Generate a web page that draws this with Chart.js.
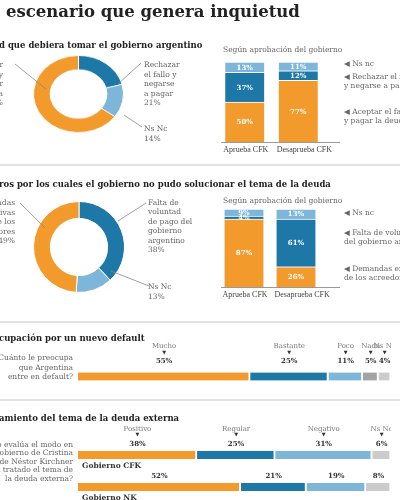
<!DOCTYPE html>
<html>
<head>
<meta charset="utf-8">
<script src="https://cdn.jsdelivr.net/npm/chart.js"></script>
<style>
body{margin:0;width:400px;height:500px;overflow:hidden;background:#fff;position:relative;font-family:"DejaVu Serif",serif;color:#555}
.t{position:absolute;white-space:nowrap;transform:translateY(-50%);line-height:1}
.pre{position:absolute;right:100%;top:0}
.h1{font-weight:bold;font-size:16.5px;color:#222}
.h2{font-weight:bold;font-size:8.5px;color:#222}
.s{font-size:7.5px;color:#666}
.sep{position:absolute;left:0;width:400px;height:2px;background:#e2e2e2}
.box{position:absolute}
canvas{display:block}
</style>
</head>
<body>
<div class="sep" style="top:164px"></div>
<div class="sep" style="top:321px"></div>
<div class="sep" style="top:399px"></div>

<div class="box" style="left:33px;top:55px;transform:scaleY(0.857);transform-origin:0 0"><canvas id="donut1" width="91" height="91"></canvas></div>
<div class="box" style="left:218px;top:58px"><canvas id="bars1" width="122" height="100"></canvas></div>
<div class="box" style="left:33px;top:201px"><canvas id="donut2" width="92" height="92"></canvas></div>
<div class="box" style="left:218px;top:205px"><canvas id="bars2" width="122" height="98"></canvas></div>
<div class="box" style="left:78px;top:340px"><canvas id="preoc" width="313" height="44"></canvas></div>
<div class="box" style="left:78px;top:420px"><canvas id="evalua" width="313" height="83"></canvas></div>

<svg class="box" style="left:0;top:0" width="400" height="500">
  <g stroke="#888" stroke-width="0.8" fill="none">
    <line x1="15" y1="64" x2="46" y2="89"/>
    <line x1="141" y1="63" x2="118" y2="84"/>
    <line x1="142" y1="127" x2="124" y2="115"/>
    <line x1="20" y1="203" x2="45" y2="228"/>
    <line x1="146" y1="203" x2="118" y2="221"/>
    <line x1="149" y1="286" x2="111" y2="271"/>
  </g>
</svg>

<script>
// colores
const orange = '#F39A2C', blue = '#1D77A7', sky = '#7DB6D9', gray = '#A3A3A3', lgray = '#CBCBCB';

// 1. actitud que debiera tomar el gobierno
const actitudLabels = ['Rechazar el fallo y negarse a pagar', 'Ns Nc', 'Aceptar el fallo y pagar la deuda'];
const actitudValues = [21, 14, 65];
const aprobCats = ['Aprueba CFK', 'Desaprueba CFK'];
const actitudAceptar = [50, 77];
const actitudRechazar = [37, 12];
const actitudNsNc = [13, 11];

// 2. motivos
const motivosLabels = ['Falta de voluntad de pago del gobierno argentino', 'Ns Nc', 'Demandas excesivas de los acreedores'];
const motivosValues = [38, 13, 49];
const motivosDemandas = [87, 26];
const motivosFalta = [4, 61];
const motivosNsNc = [9, 13];

// 3. preocupacion por un nuevo default
const preocLabels = ['Mucho', 'Bastante', 'Poco', 'Nada', 'Ns Nc'];
const preocValues = [55, 25, 11, 5, 4];

// 4. tratamiento de la deuda externa
const evalLabels = ['Positivo', 'Regular', 'Negativo', 'Ns Nc'];
const evalGobiernos = ['Gobierno CFK', 'Gobierno NK'];
const evalCFK = [38, 25, 31, 6];
const evalNK = [52, 21, 19, 8];

function txt(s, x, y, cls, align, pre) {
  const d = document.createElement('div');
  d.className = 't ' + cls;
  d.textContent = s;
  if (pre) {
    const p = document.createElement('span');
    p.className = 'pre';
    p.textContent = pre;
    d.appendChild(p);
  }
  d.style.top = y + 'px';
  if (align == 'right') d.style.right = (400 - x) + 'px';
  else d.style.left = x + 'px';
  document.body.appendChild(d);
}
function lines(arr, x, y, step, cls, align) {
  arr.forEach((s, i) => txt(s, x, y + i * step, cls, align));
}

// textos
txt('escenario que genera inquietud', 6, 12, 'h1', 'left', 'Un\u00a0');
txt('d que debiera tomar el gobierno argentino', -1, 45, 'h2', 'left', 'Actitu');
txt('ros por los cuales el gobierno no pudo solucionar el tema de la deuda', -1, 184, 'h2');
txt('cupación por un nuevo default', -1, 338, 'h2', 'left', 'Preo');
txt('amiento del tema de la deuda externa', -1, 418, 'h2', 'left', 'Trat');

lines(['Aceptar', 'el fallo y', 'pagar', 'la deuda', '65%'], 3, 65, 9.5, 's', 'right');
lines(['Rechazar', 'el fallo y', 'negarse', 'a pagar', '21%'], 144, 65, 9.6, 's');
lines(['Ns Nc', '14%'], 144, 129, 10, 's');
txt('Según aprobación del gobierno', 223, 50, 's');
txt('\u25C0 Ns nc', 344, 64, 's');
lines(['\u25C0 Rechazar el fallo', '   y negarse a pagar'], 344, 77, 8.5, 's');
lines(['\u25C0 Aceptar el fallo', '   y pagar la deuda'], 344, 112, 8.5, 's');

lines(['Demandas', 'excesivas', 'de los', 'acreedores', '49%'], 15, 203, 9.5, 's', 'right');
lines(['Falta de', 'voluntad', 'de pago del', 'gobierno', 'argentino', '38%'], 148, 203, 9.4, 's');
lines(['Ns Nc', '13%'], 148, 287, 10, 's');
txt('Según aprobación del gobierno', 223, 201, 's');
txt('\u25C0 Ns nc', 344, 213, 's');
lines(['\u25C0 Falta de voluntad', '   del gobierno argentino'], 344, 233, 8.5, 's');
lines(['\u25C0 Demandas excesivas', '   de los acreedores'], 344, 269, 8.5, 's');

lines(['¿Cuánto le preocupa', 'que Argentina', 'entre en default?'], 73, 358, 9.5, 's', 'right');
lines(['¿Cómo evalúa el modo en', 'que el gobierno de Cristina', 'Kirchner y el de Néstor Kirchner', 'ha tratado el tema de', 'la deuda externa?'], 73, 445, 8.4, 's', 'right');

// etiquetas dentro de las barras verticales y nombres debajo
const insideLabels = {
  id: 'insideLabels',
  afterDatasetsDraw(chart) {
    const ctx = chart.ctx;
    ctx.save();
    ctx.font = 'bold 7px "DejaVu Serif"';
    ctx.fillStyle = '#fff';
    ctx.textAlign = 'center';
    ctx.textBaseline = 'middle';
    chart.data.datasets.forEach((ds, i) => {
      chart.getDatasetMeta(i).data.forEach((bar, j) => {
        ctx.fillText(ds.data[j] + '%', bar.x, (bar.y + bar.base) / 2 + 0.5);
      });
    });
    ctx.font = '8px "Liberation Serif"';
    ctx.fillStyle = '#444';
    ctx.textAlign = 'left';
    chart.getDatasetMeta(0).data.forEach((bar, j) => {
      ctx.fillText(chart.data.labels[j], bar.x - bar.width / 2 - 2, chart.chartArea.bottom + 8);
    });
    ctx.restore();
  }
};

// etiquetas encima de las barras horizontales
const topLabels = {
  id: 'topLabels',
  afterDatasetsDraw(chart, args, opts) {
    const ctx = chart.ctx;
    ctx.save();
    ctx.textAlign = 'center';
    ctx.textBaseline = 'middle';
    chart.data.datasets.forEach((ds, i) => {
      chart.getDatasetMeta(i).data.forEach((bar, j) => {
        const cx = (bar.x + bar.base) / 2;
        const top = bar.y - bar.height / 2;
        if (j == 0) {
          ctx.fillStyle = '#777';
          ctx.font = '7px "DejaVu Serif"';
          ctx.fillText(ds.label, cx, top - opts.name);
          ctx.fillStyle = '#333';
          ctx.font = '5px "DejaVu Sans"';
          ctx.fillText('\u25BC', cx, top - opts.arrow);
        }
        ctx.fillStyle = '#333';
        ctx.font = 'bold 7px "DejaVu Serif"';
        ctx.fillText(ds.data[j] + '%', cx, top - opts.value);
      });
    });
    if (opts.groups) {
      ctx.textAlign = 'left';
      ctx.font = 'bold 7.5px "DejaVu Serif"';
      ctx.fillStyle = '#333';
      const meta = chart.getDatasetMeta(0);
      chart.data.labels.forEach((l, j) => {
        const bar = meta.data[j];
        ctx.fillText(l, chart.chartArea.left + 4, bar.y + bar.height / 2 + 7);
      });
    }
    ctx.restore();
  }
};

const noPlugins = { legend: { display: false }, tooltip: { enabled: false } };

function donut(id, labels, values) {
  new Chart(document.getElementById(id), {
    type: 'doughnut',
    data: { labels: labels, datasets: [{ data: values, backgroundColor: [blue, sky, orange], borderColor: '#fff', borderWidth: 1 }] },
    options: { responsive: false, animation: false, devicePixelRatio: 1, cutout: '63%', plugins: noPlugins }
  });
}

// barras apiladas: el area util mide 107 px, el resto a la derecha es la linea de base
function stacked(id, parts, plotWidth) {
  new Chart(document.getElementById(id), {
    type: 'bar',
    data: {
      labels: aprobCats,
      datasets: parts.map(p => ({ label: p[0], data: p[1], backgroundColor: p[2], borderColor: '#fff', borderWidth: { top: 1 }, borderSkipped: false, barThickness: 39 }))
    },
    options: {
      responsive: false, animation: false, devicePixelRatio: 1,
      layout: { padding: { top: 4, right: 122 - plotWidth } },
      plugins: noPlugins,
      scales: {
        x: { stacked: true, grid: { display: false }, border: { display: false },
             ticks: { display: false },
             afterFit(s) { s.height = 16; } },
        y: { stacked: true, min: 0, max: 100, display: false }
      }
    },
    plugins: [insideLabels, {
      id: 'baseLine',
      afterDatasetsDraw(chart) {
        const ctx = chart.ctx, a = chart.chartArea;
        ctx.save();
        ctx.strokeStyle = '#999';
        ctx.beginPath();
        ctx.moveTo(a.left + 3, a.bottom + 0.5);
        ctx.lineTo(chart.width, a.bottom + 0.5);
        ctx.stroke();
        ctx.restore();
      }
    }]
  });
}

function hbars(id, cats, names, rows, colors, pad, offs) {
  new Chart(document.getElementById(id), {
    type: 'bar',
    data: {
      labels: cats,
      datasets: names.map((n, i) => ({
        label: n, data: rows.map(r => r[i]), backgroundColor: colors[i],
        borderColor: '#fff', borderWidth: { right: 2 }, borderSkipped: false, barThickness: 8
      }))
    },
    options: {
      indexAxis: 'y', responsive: false, animation: false, devicePixelRatio: 1,
      layout: { padding: pad },
      plugins: Object.assign({ topLabels: offs }, noPlugins),
      scales: {
        x: { stacked: true, min: 0, max: 100, display: false },
        y: { stacked: true, display: false }
      }
    },
    plugins: [topLabels]
  });
}

donut('donut1', actitudLabels, actitudValues);
donut('donut2', motivosLabels, motivosValues);

stacked('bars1', [
  ['Aceptar el fallo y pagar la deuda', actitudAceptar, orange],
  ['Rechazar el fallo y negarse a pagar', actitudRechazar, blue],
  ['Ns nc', actitudNsNc, sky]
], 107);
stacked('bars2', [
  ['Demandas excesivas de los acreedores', motivosDemandas, orange],
  ['Falta de voluntad del gobierno argentino', motivosFalta, blue],
  ['Ns nc', motivosNsNc, sky]
], 104);

hbars('preoc', ['¿Cuánto le preocupa que Argentina entre en default?'], preocLabels, [preocValues],
  [orange, blue, sky, gray, lgray], { top: 29 }, { name: 26, arrow: 20, value: 11 });
hbars('evalua', evalGobiernos, evalLabels, [evalCFK, evalNK],
  [orange, blue, sky, lgray], { top: 19 }, { name: 22, arrow: 16, value: 7, groups: true });
</script>
</body>
</html>
